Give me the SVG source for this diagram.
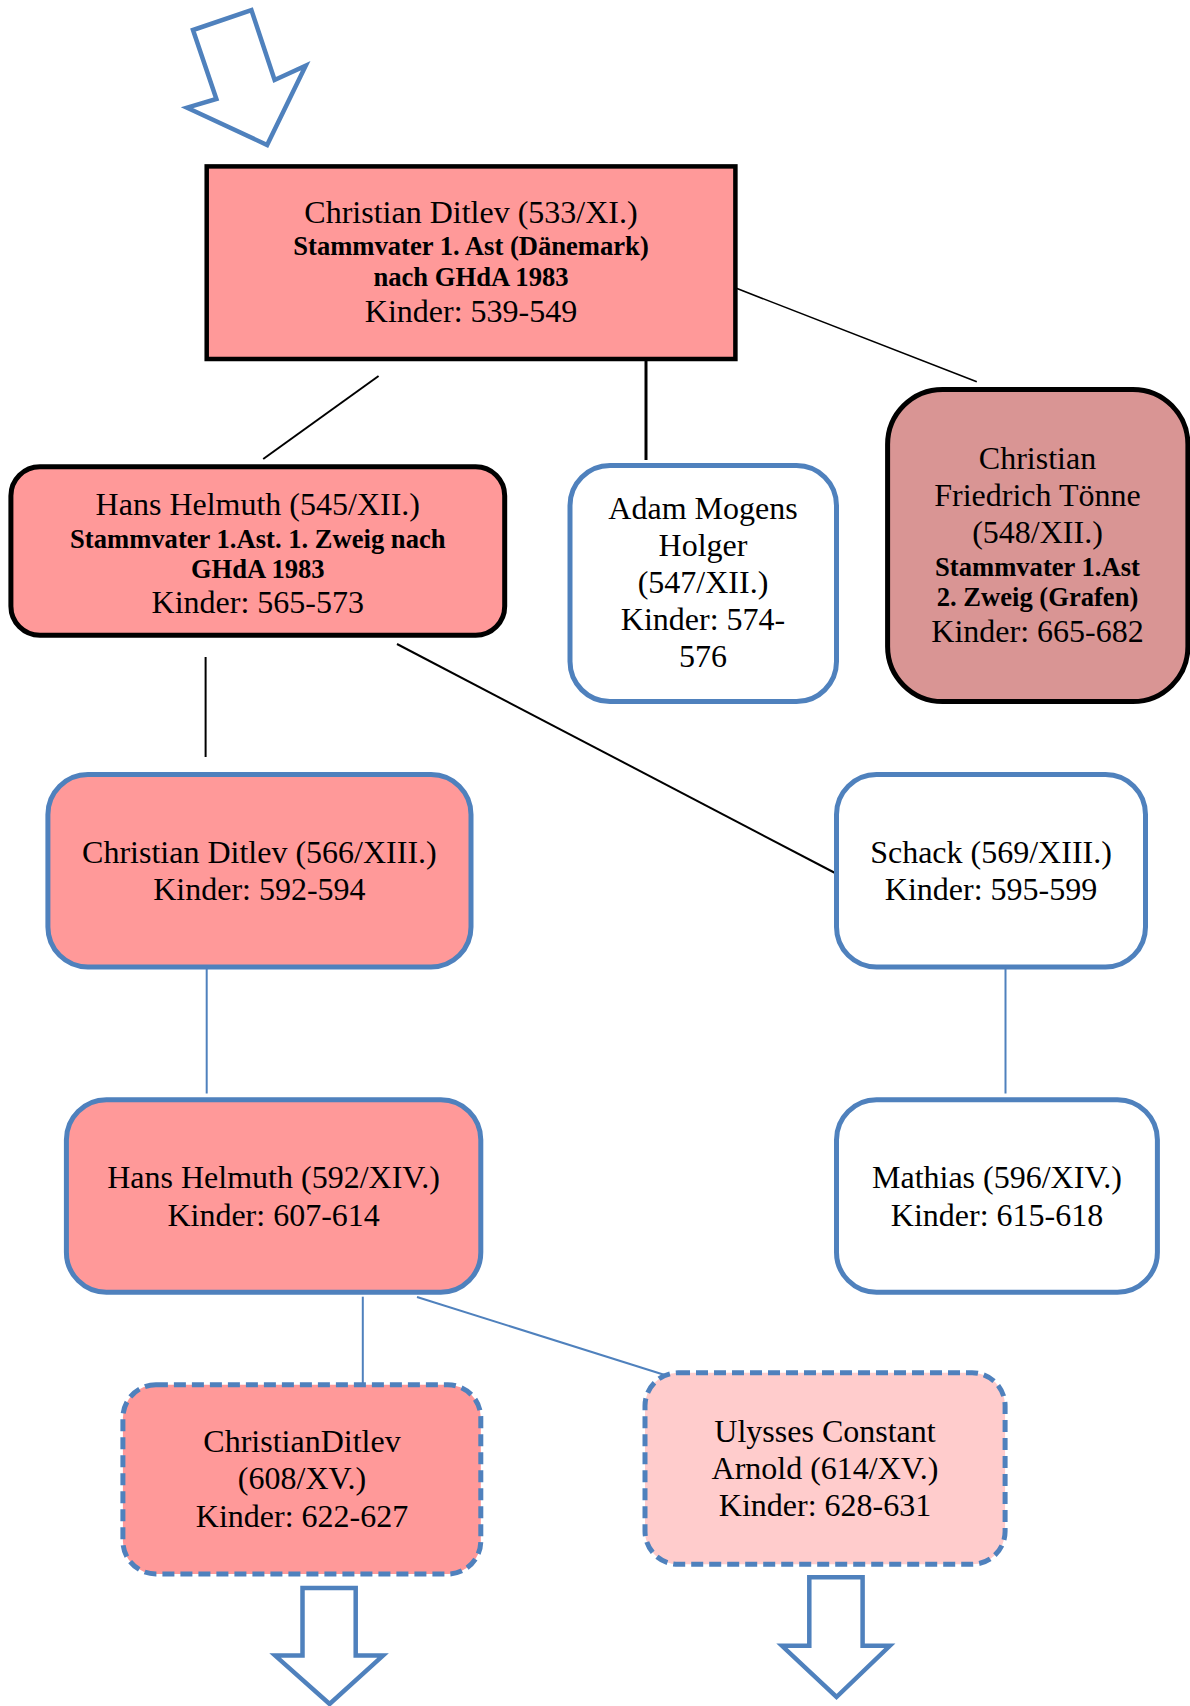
<svg xmlns="http://www.w3.org/2000/svg" width="1190" height="1706" viewBox="0 0 1190 1706">
  <style>
    text { font-family: "Liberation Serif", "Times New Roman", serif; fill: #000; text-anchor: middle; }
    .r { font-size: 32px; }
    .b { font-size: 26.6px; font-weight: bold; }
    .box-black { stroke: #000; stroke-width: 5; }
    .box-blue { stroke: #4F81BD; stroke-width: 5; }
    .dashed { stroke: #4F81BD; stroke-width: 5; stroke-dasharray: 12 6; }
    .salmon { fill: #FF9999; }
    .rose { fill: #D99594; }
    .blush { fill: #FFCCCC; }
    .white { fill: #FFFFFF; }
    .link-black { stroke: #000; fill: none; }
    .link-blue { stroke: #4F81BD; fill: none; stroke-width: 2; }
    .big-arrow { fill: #FFFFFF; stroke: #4F81BD; stroke-width: 4.5; stroke-linejoin: miter; }
  </style>

  <rect width="1190" height="1706" fill="#FFFFFF"/>

  <!-- block arrows: entry at the top, continuation at the bottom -->
  <g id="arrows">
    <polygon class="big-arrow" points="193,30 216.4,99 187.1,107.7 267.1,145 305.7,65.7 274.6,80 251.4,10"/>
    <polygon class="big-arrow" points="302.5,1588 355.7,1588 355.7,1655.6 383,1655.6 329.6,1704 275.2,1655.6 302.5,1655.6"/>
    <polygon class="big-arrow" points="809.3,1577.3 862.6,1577.3 862.6,1645.8 889.8,1645.8 836.5,1697 782,1645.8 809.3,1645.8"/>
  </g>

  <!-- parent/child links -->
  <g id="connectors">
    <line class="link-black" x1="378.6" y1="376" x2="263.2" y2="459" stroke-width="2"/>
    <line class="link-black" x1="646" y1="359" x2="646" y2="460" stroke-width="3"/>
    <line class="link-black" x1="736.4" y1="288.3" x2="976.8" y2="381.8" stroke-width="1.6"/>
    <line class="link-black" x1="205.6" y1="657" x2="205.6" y2="757" stroke-width="2"/>
    <line class="link-black" x1="397" y1="644" x2="837" y2="874" stroke-width="2"/>
    <line class="link-blue" x1="206.7" y1="965" x2="206.7" y2="1093.5"/>
    <line class="link-blue" x1="1005.5" y1="964" x2="1005.5" y2="1093.5" stroke-width="2.5"/>
    <line class="link-blue" x1="362.8" y1="1296.7" x2="362.8" y2="1383"/>
    <line class="link-blue" x1="417" y1="1297" x2="668" y2="1376"/>
  </g>

  <g id="n533">
    <rect class="salmon" x="206.7" y="166.4" width="528.7" height="192.6" stroke="#000" stroke-width="4.5"/>
    <text class="r" x="471" y="222.7">Christian Ditlev (533/XI.)</text>
    <text class="b" x="471" y="255">Stammvater 1. Ast (Dänemark)</text>
    <text class="b" x="471" y="286">nach GHdA 1983</text>
    <text class="r" x="471" y="321.7">Kinder: 539-549</text>
  </g>

  <g id="n545">
    <rect class="salmon box-black" x="10.9" y="466.7" width="493.8" height="168.6" rx="29"/>
    <text class="r" x="257.8" y="515">Hans Helmuth (545/XII.)</text>
    <text class="b" x="257.8" y="548.3">Stammvater 1.Ast. 1. Zweig nach</text>
    <text class="b" x="257.8" y="578.3">GHdA 1983</text>
    <text class="r" x="257.8" y="613.3">Kinder: 565-573</text>
  </g>

  <g id="n547">
    <rect class="white box-blue" x="570" y="465.6" width="266.5" height="236" rx="40"/>
    <text class="r" x="703" y="519.3">Adam Mogens</text>
    <text class="r" x="703" y="556">Holger</text>
    <text class="r" x="703" y="593.3">(547/XII.)</text>
    <text class="r" x="703" y="630">Kinder: 574-</text>
    <text class="r" x="703" y="667.3">576</text>
  </g>

  <g id="n548">
    <rect class="rose box-black" x="887.6" y="389.4" width="300.3" height="312.2" rx="55"/>
    <text class="r" x="1037.5" y="469.3">Christian</text>
    <text class="r" x="1037.5" y="506">Friedrich Tönne</text>
    <text class="r" x="1037.5" y="543.3">(548/XII.)</text>
    <text class="b" x="1037.5" y="576">Stammvater 1.Ast</text>
    <text class="b" x="1037.5" y="606">2. Zweig (Grafen)</text>
    <text class="r" x="1037.5" y="641.7">Kinder: 665-682</text>
  </g>

  <g id="n566">
    <rect class="salmon box-blue" x="47.9" y="774.5" width="423.1" height="192.5" rx="40"/>
    <text class="r" x="259.4" y="863.2">Christian Ditlev (566/XIII.)</text>
    <text class="r" x="259.4" y="900">Kinder: 592-594</text>
  </g>

  <g id="n569">
    <rect class="white box-blue" x="836.5" y="774.5" width="309" height="192.5" rx="40"/>
    <text class="r" x="991" y="863.2">Schack (569/XIII.)</text>
    <text class="r" x="991" y="900">Kinder: 595-599</text>
  </g>

  <g id="n592">
    <rect class="salmon box-blue" x="66.4" y="1099.8" width="414.4" height="192.5" rx="40"/>
    <text class="r" x="273.6" y="1188.2">Hans Helmuth (592/XIV.)</text>
    <text class="r" x="273.6" y="1225.7">Kinder: 607-614</text>
  </g>

  <g id="n596">
    <rect class="white box-blue" x="836.5" y="1099.8" width="320.9" height="192.5" rx="40"/>
    <text class="r" x="997" y="1188.2">Mathias (596/XIV.)</text>
    <text class="r" x="997" y="1225.7">Kinder: 615-618</text>
  </g>

  <g id="n608">
    <rect class="salmon dashed" x="122.9" y="1384.8" width="357.9" height="189.2" rx="33"/>
    <text class="r" x="302" y="1452.3">ChristianDitlev</text>
    <text class="r" x="302" y="1489.3">(608/XV.)</text>
    <text class="r" x="302" y="1526.7">Kinder: 622-627</text>
  </g>

  <g id="n614">
    <rect class="blush dashed" x="645" y="1372.8" width="360.1" height="191.5" rx="33"/>
    <text class="r" x="825" y="1442.3">Ulysses Constant</text>
    <text class="r" x="825" y="1479.3">Arnold (614/XV.)</text>
    <text class="r" x="825" y="1516">Kinder: 628-631</text>
  </g>
</svg>
